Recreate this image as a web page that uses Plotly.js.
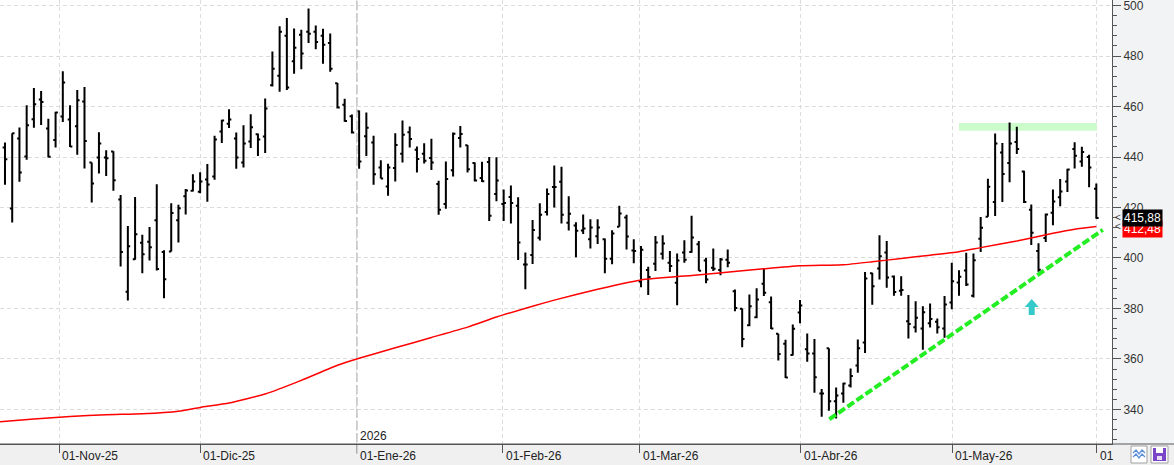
<!DOCTYPE html>
<html><head><meta charset="utf-8">
<script src="https://cdn.plot.ly/plotly-3.0.1.min.js"></script>
<style>html,body{margin:0;padding:0;background:#f0f0f0;overflow:hidden}#chart{width:1174px;height:465px}</style>
</head><body><div id="chart"></div>
<script>
// ---- data ----
const openP = [443.8,419.6,447.3,440.2,455.0,462.8,451.3,446.7,456.0,454.9,
452.2,462.0,437.8,439.8,439.8,442.2,423.2,386.6,399.5,406.0,
406.4,414.9,402.4,402.6,414.9,424.5,426.6,426.2,431.1,432.3,
450.1,453.2,447.3,437.8,446.1,449.0,448.1,468.4,472.2,488.0,
477.9,488.4,489.6,489.6,488.0,485.2,469.2,460.7,456.1,458.1,
448.2,445.7,435.8,428.3,435.6,441.3,449.8,442.9,441.3,439.6,
429.3,421.4,434.8,447.5,444.7,437.6,431.7,438.0,425.3,421.4,
424.2,420.7,397.4,401.2,408.0,418.2,428.1,430.2,414.0,412.9,
410.9,407.4,408.6,407.4,399.7,412.4,416.0,403.0,390.7,395.2,
397.7,401.7,398.1,390.2,402.2,402.4,405.4,399.0,396.1,395.2,
399.3,386.8,379.9,373.3,376.5,389.8,382.5,370.0,366.0,361.6,
378.4,363.8,362.2,346.3,364.2,343.2,346.3,349.5,357.4,366.5,
393.9,395.8,402.2,392.7,387.0,374.9,372.6,372.1,374.1,374.7,
372.1,382.4,390.3,395.0,385.0,407.6,416.3,422.2,441.8,437.6,
445.9,434.3,419.1,402.8,407.9,417.9,424.1,430.3,443.2,438.2,
440.0,427.4];
const highP = [445.7,449.4,451.7,460.5,467.3,466.1,455.2,457.9,474.0,460.5,
466.5,467.7,437.8,449.8,442.7,442.3,424.9,412.7,424.2,409.2,
412.3,429.2,403.1,421.7,421.1,427.3,433.2,434.0,437.2,448.4,
454.8,458.9,449.7,452.6,456.9,449.3,463.2,481.8,491.8,495.1,
490.9,490.4,498.8,492.1,490.8,488.9,469.3,463.1,456.8,458.4,
457.6,448.4,438.7,437.3,449.4,454.5,452.1,444.2,445.4,447.2,
430.6,438.2,449.7,452.3,444.8,437.8,438.1,440.0,439.9,427.1,
428.7,424.1,402.2,415.0,421.7,427.5,436.6,436.1,424.5,414.2,
417.2,415.3,415.3,407.7,411.0,420.7,417.1,407.4,404.7,396.5,
408.7,409.0,402.8,401.8,407.0,416.7,406.7,400.1,403.8,400.0,
403.4,387.5,380.0,385.5,388.0,395.9,384.7,370.0,367.6,373.6,
383.3,370.1,367.9,348.1,364.2,348.7,350.6,356.2,367.7,394.4,
394.1,409.0,406.7,393.1,392.8,385.3,382.9,380.9,382.0,376.0,
384.9,398.1,395.1,402.1,401.8,416.2,431.4,449.3,445.5,453.7,
452.0,434.6,421.2,405.8,417.6,427.1,431.3,435.3,445.8,444.1,
440.9,429.5];
const lowP = [429.0,414.1,430.2,438.9,451.6,452.7,439.8,443.8,453.9,444.0,
440.9,435.4,422.0,433.5,432.5,426.6,396.6,383.2,399.3,393.9,
399.0,395.0,384.0,402.6,406.1,417.2,426.3,425.6,422.3,431.0,
445.5,451.5,435.3,435.8,443.6,440.4,441.6,467.9,465.9,466.5,
473.0,474.8,485.2,482.7,476.9,473.8,459.2,454.0,449.3,435.3,
440.4,429.0,431.5,424.6,430.3,437.8,443.8,433.9,437.4,434.9,
417.1,419.5,432.3,443.8,433.9,430.3,430.1,414.6,422.5,414.6,
413.7,399.2,387.6,397.6,406.9,416.8,420.0,413.7,410.9,400.3,
409.5,403.8,405.5,393.9,397.5,412.4,403.4,397.9,388.4,385.3,
394.8,399.4,394.4,381.3,398.1,402.1,394.9,390.0,394.8,393.2,
396.3,378.9,364.6,372.9,376.1,384.9,371.9,359.4,352.4,361.4,
374.1,358.9,346.6,337.1,339.5,336.4,342.6,348.7,354.5,362.4,
381.5,391.5,388.2,385.0,385.0,368.1,370.5,363.6,372.5,370.1,
368.4,379.7,385.0,388.9,384.3,402.4,416.3,416.6,422.2,430.0,
441.2,421.8,405.1,394.5,406.3,413.0,420.5,426.1,435.4,436.1,
428.0,415.5];
const closeP = [439.1,449.4,433.9,452.6,460.9,461.8,440.1,457.6,469.5,444.2,
462.5,446.3,429.5,445.3,439.5,430.8,402.4,404.6,409.4,401.5,
404.2,395.6,391.6,417.8,419.7,426.7,430.3,430.3,429.1,446.9,
454.5,454.9,439.8,445.3,451.8,446.9,459.2,475.0,489.6,467.5,
483.3,481.0,488.8,485.6,484.5,475.0,459.6,454.3,449.7,438.2,
451.6,433.2,431.5,435.8,444.8,448.8,447.1,439.2,438.5,437.8,
419.1,431.3,449.2,449.1,435.1,430.7,430.4,416.7,430.7,421.8,
421.8,406.1,397.4,411.1,417.1,425.3,428.1,417.1,417.5,410.8,
411.7,412.1,412.1,399.7,409.7,417.6,408.5,402.8,403.3,392.5,
406.1,405.7,396.8,399.0,399.3,408.1,394.9,391.5,395.7,399.4,
398.1,380.2,367.9,380.9,383.5,386.2,372.1,362.0,352.6,372.0,
381.2,362.2,352.7,346.3,343.2,345.5,350.3,353.2,364.2,391.9,
388.8,400.7,392.3,386.5,387.3,373.8,376.3,378.5,375.8,372.6,
381.6,390.8,392.6,389.5,399.1,412.0,428.2,445.3,433.3,445.3,
443.2,422.2,410.0,395.3,417.2,422.4,426.3,435.0,440.5,442.0,
435.8,415.88];

// moving average (sampled at bar indexes)
const maIdx = [-1,4,9,14,19,24,27,31,36,41,46,49,54,59,64,68,73,76,82,88,95,102,105,110,116,120,124,128,132,135,140,145,148,151];
const maVal = [335.0,336.2,337.2,337.9,338.3,339.3,340.8,342.5,346.1,351.5,357.5,360.3,364.4,368.5,372.6,376.6,380.9,383.3,387.6,391.3,393.1,394.9,395.7,396.9,397.3,398.5,399.8,401.1,402.5,404.1,406.7,409.8,411.4,412.48];

// month ticks (bar-index positions) and labels
const monthTickPos = [7.5, 27, 48.7, 68.9, 87.8, 110.1, 131.1, 151.05];
const monthTickText = ["01-Nov-25","01-Dic-25","01-Ene-26","01-Feb-26","01-Mar-26","01-Abr-26","01-May-26","01"];
const yearMarkPos = 48.7;
const yearMarkText = "2026";

// drawings
const trendIdx = [114.06, 151.9];
const trendVal = [336.1, 411.1];
const zoneIdx = [132.0, 151.06];
const zoneVal = [450.4, 453.5];
const arrowIdx = 142.06;
const arrowVal = 377.4;
const lastClose = 415.88;
const lastMA = 412.48;
const lastCloseText = "415,88";
const lastMAText = "412,48";

// ---- layout helpers (pixels -> paper) ----
const PR = 1112, PB = 444;
const px = v => v / PR;
const py = v => (PB - v) / PB;
const FONT = "Liberation Sans, Arial, sans-serif";

const idx = closeP.map((_, i) => i);

const traces = [
  {type:'ohlc', x: idx, open: openP, high: highP, low: lowP, close: closeP,
   increasing:{line:{color:'#000000', width:2}}, decreasing:{line:{color:'#000000', width:2}},
   tickwidth:0.32, hoverinfo:'skip', showlegend:false},
  {type:'scatter', mode:'lines', x: maIdx, y: maVal, line:{color:'#ff0000', width:1.5, shape:'spline', smoothing:0.5},
   hoverinfo:'skip', showlegend:false},
  {type:'scatter', mode:'lines', x: trendIdx, y: trendVal, line:{color:'#22ee22', width:4, dash:'8px,3px'},
   hoverinfo:'skip', showlegend:false}
];

const annotations = monthTickText.map((t, i) => ({
  x: monthTickPos[i], xref:'x', y: py(456), yref:'paper', text: t, showarrow:false,
  xanchor:'left', yanchor:'middle', xshift:1, font:{family:FONT, size:12, color:'#222'}
}));
annotations.push({x: yearMarkPos, xref:'x', y: py(436), yref:'paper', text: yearMarkText, showarrow:false,
  xanchor:'left', yanchor:'middle', xshift:1, font:{family:FONT, size:12, color:'#222'}});
annotations.push({x: px(1122), xref:'paper', y: lastMA, yref:'y', yshift:-3, text: lastMAText, showarrow:false,
  xanchor:'left', yanchor:'middle', bgcolor:'#ff0000', font:{family:FONT, size:12, color:'#ffffff'},
  width:37, height:14, align:'left', borderpad:1});
annotations.push({x: px(1122), xref:'paper', y: lastClose, yref:'y', text: lastCloseText, showarrow:false,
  xanchor:'left', yanchor:'middle', bgcolor:'#000000', font:{family:FONT, size:12, color:'#ffffff'},
  width:37, height:14, align:'left', borderpad:1});
[lastClose, lastMA].forEach(v => annotations.push({x: px(1113), xref:'paper', y: v, yref:'y', text:'<', showarrow:false,
  xanchor:'left', yanchor:'middle', font:{family:FONT, size:10, color:'#444'}}));

const zig = (y0) => {
  const pts = [[1133,y0+2],[1136,y0-1],[1139,y0+3],[1142,y0-1],[1145,y0+2]];
  return 'M' + pts.map(p => px(p[0]) + ',' + py(p[1])).join(' L');
};

const shapes = [
  {type:'rect', xref:'paper', yref:'paper', x0:1, x1:px(1174), y0:0, y1:1, fillcolor:'#f2f3f5', line:{width:0}, layer:'below'},
  {type:'rect', xref:'x', yref:'y', x0: zoneIdx[0], x1: zoneIdx[1], y0: zoneVal[0], y1: zoneVal[1],
   fillcolor:'#ccfccc', line:{width:0}, layer:'between'},
  {type:'line', xref:'x', yref:'paper', x0: yearMarkPos, x1: yearMarkPos, y0: py(454), y1: 1,
   line:{color:'#c4c4c4', width:1.5, dash:'9px,3px'}},
  {type:'line', xref:'paper', yref:'paper', x0:0, x1:px(1174), y0:0, y1:0, line:{color:'#555', width:1}},
  {type:'path', xref:'x', yref:'y', xsizemode:'pixel', ysizemode:'pixel', xanchor: arrowIdx, yanchor: arrowVal,
   path:'M-3,0 L3,0 L3,8 L7,8 L0,16 L-7,8 L-3,8 Z', fillcolor:'#36c9c9', line:{width:0}},
  {type:'rect', xref:'paper', yref:'paper', x0:px(1131), x1:px(1147), y0:py(463), y1:py(446), fillcolor:'#ffffff', line:{color:'#a0a0a0', width:1}},
  {type:'path', xref:'paper', yref:'paper', path: zig(451), line:{color:'#5b8fd8', width:1.3}},
  {type:'path', xref:'paper', yref:'paper', path: zig(455), line:{color:'#5b8fd8', width:1.3}},
  {type:'rect', xref:'paper', yref:'paper', x0:px(1151), x1:px(1168), y0:py(463), y1:py(446), fillcolor:'#ffffff', line:{color:'#a0a0a0', width:1}},
  {type:'rect', xref:'paper', yref:'paper', x0:px(1153), x1:px(1166), y0:py(461), y1:py(448), fillcolor:'#7b45c8', line:{width:0}},
  {type:'rect', xref:'paper', yref:'paper', x0:px(1156), x1:px(1163), y0:py(453), y1:py(448), fillcolor:'#ffffff', line:{width:0}},
  {type:'rect', xref:'paper', yref:'paper', x0:px(1157), x1:px(1162), y0:py(460), y1:py(456), fillcolor:'#e8dcf7', line:{width:0}}
];

const layout = {
  width:1174, height:465,
  margin:{l:0, r:62, t:0, b:21, pad:0},
  paper_bgcolor:'#f0f0f0', plot_bgcolor:'#ffffff',
  showlegend:false,
  xaxis:{range:[-0.69, 153.17], tickmode:'array', tickvals: monthTickPos, ticktext: monthTickText,
    showticklabels:false, ticks:'outside', ticklen:8, tickcolor:'#555', tickwidth:1,
    showgrid:true, gridcolor:'#dcdcdc', griddash:'4px,3px', gridwidth:1,
    showline:true, linecolor:'#555', linewidth:1, zeroline:false, rangeslider:{visible:false}, fixedrange:true},
  yaxis:{side:'right', range:[326.3, 502.2], tick0:0, dtick:20, ticks:'outside', ticklen:8, tickcolor:'#555',
    ticklabeloverflow:'allow',
    minor:{dtick:4, ticklen:4, tickcolor:'#555', ticks:'outside', showgrid:false},
    showgrid:true, gridcolor:'#dcdcdc', griddash:'4px,3px', gridwidth:1,
    showline:true, linecolor:'#555', linewidth:1, zeroline:false, fixedrange:true,
    tickfont:{family:FONT, size:12, color:'#333'}},
  annotations: annotations,
  shapes: shapes
};

Plotly.newPlot('chart', traces, layout, {displayModeBar:false, staticPlot:true});
</script>
</body></html>
